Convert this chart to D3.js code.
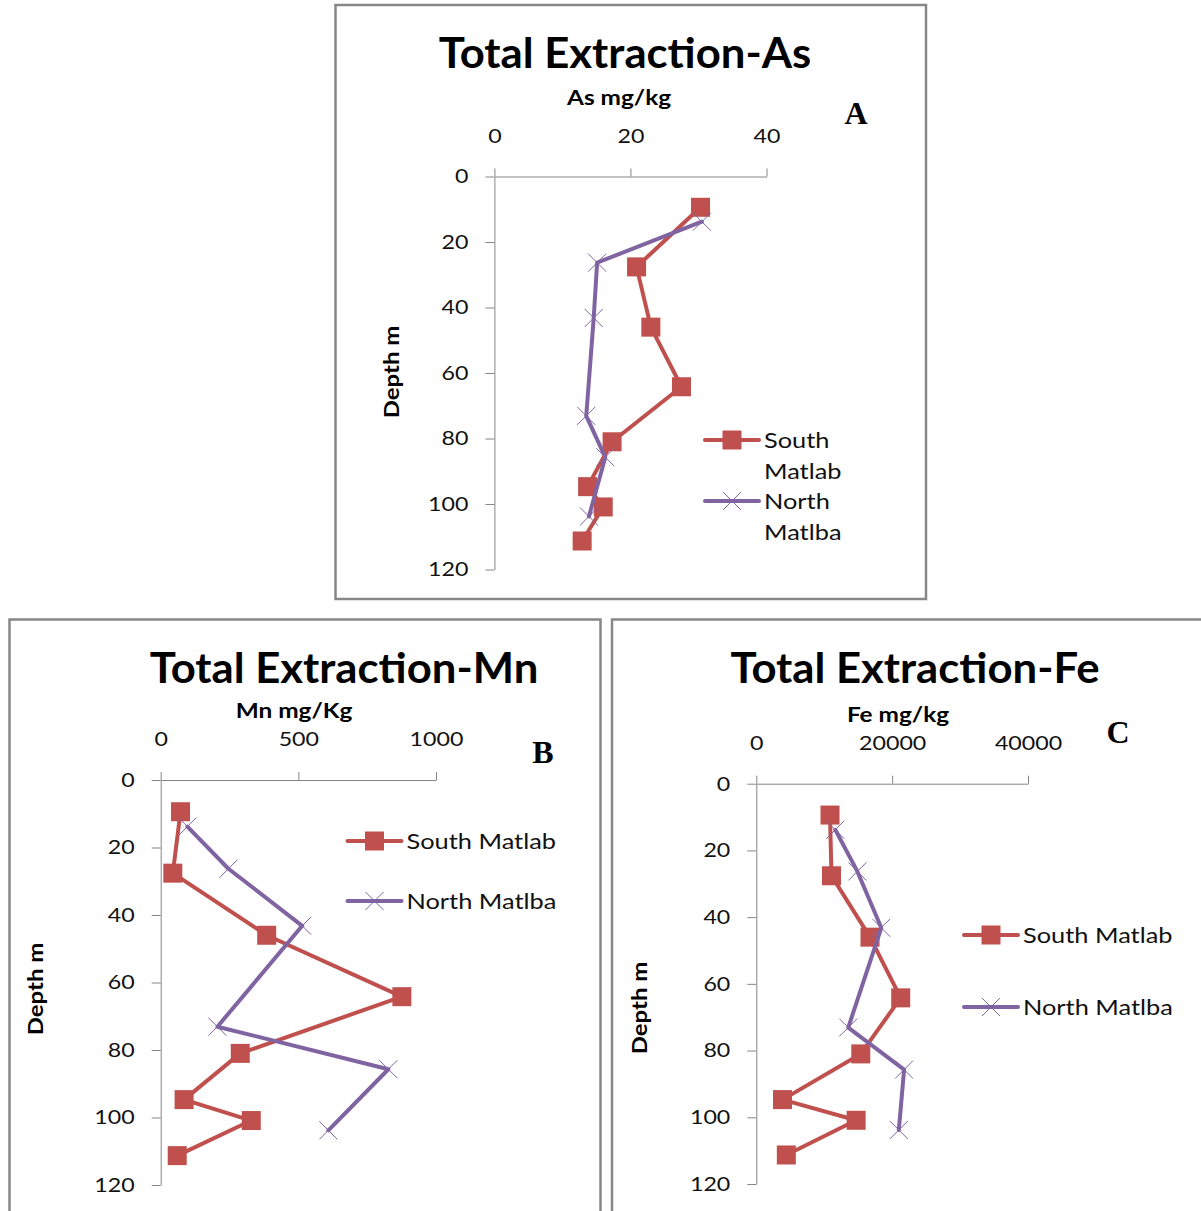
<!DOCTYPE html>
<html>
<head>
<meta charset="utf-8">
<script src="https://cdn.jsdelivr.net/npm/d3@7"></script>
<style>
  body { margin: 0; background: #fff; }
  svg { display: block; }
</style>
</head>
<body>
<svg id="chart" width="1201" height="1211"></svg>
<script>
// depths (m) of the two boreholes
var southDepth = [9.4, 27.6, 46, 64.2, 81, 94.7, 100.9, 111.3];
var northDepth = [13.8, 26.3, 43.2, 73.1, 85.7, 103.8];

// total extraction values, mg/kg
var asSouth = [30.3, 20.9, 23.0, 27.5, 17.3, 13.7, 16.0, 12.9];
var asNorth = [30.5, 15.1, 14.6, 13.5, 16.3, 13.9];
var mnSouth = [72, 44, 385, 876, 289, 85, 329, 60];
var mnNorth = [97, 246, 514, 206, 827, 609];
var feSouth = [10850, 11070, 16740, 21260, 15380, 3860, 14700, 4420];
var feNorth = [11630, 14880, 18400, 13540, 21760, 20980];

var seriesNames = ["South Matlab", "North Matlba"];
var depthTicks = [0, 20, 40, 60, 80, 100, 120];
var asTicks = [0, 20, 40];
var mnTicks = [0, 500, 1000];
var feTicks = [0, 20000, 40000];

var red = "#C0504D";
var purple = "#8064A2";
var axisGrey = "#868686";
var font = "Lato, 'Open Sans', sans-serif";

var svg = d3.select("#chart");

// widen glyphs a bit, the original font runs wider than Lato
function stretch(sel, k) {
	sel.each(function() {
		var w = this.getComputedTextLength();
		d3.select(this).attr("textLength", w * k).attr("lengthAdjust", "spacingAndGlyphs");
	});
}

var panels = [
	{
		frame: [335.5, 5, 590.5, 594],
		title: "Total Extraction-As", titleX: 625, titleY: 68,
		unit: "As mg/kg", unitX: 619, unitY: 105,
		letter: "A", letterX: 856, letterY: 124,
		xr: [494.4, 766.5], yr: [176.5, 569.5], dom: [0, 40], ticks: asTicks,
		south: asSouth, north: asNorth,
		depthX: 392, depthY: 372,
		legX: 705, legY: [440, 501], wrap: true
	},
	{
		frame: [9.5, 619.5, 591, 700],
		title: "Total Extraction-Mn", titleX: 344, titleY: 683,
		unit: "Mn mg/Kg", unitX: 294, unitY: 718,
		letter: "B", letterX: 543, letterY: 763,
		xr: [160.7, 436], yr: [780, 1185], dom: [0, 1000], ticks: mnTicks,
		south: mnSouth, north: mnNorth,
		depthX: 36, depthY: 989,
		legX: 347.5, legY: [841, 901], wrap: false
	},
	{
		frame: [612, 619.5, 700, 700],
		title: "Total Extraction-Fe", titleX: 915, titleY: 683,
		unit: "Fe mg/kg", unitX: 898, unitY: 722,
		letter: "C", letterX: 1118, letterY: 743,
		xr: [756.3, 1028], yr: [783.7, 1184], dom: [0, 40000], ticks: feTicks,
		south: feSouth, north: feNorth,
		depthX: 640, depthY: 1008,
		legX: 964, legY: [935, 1007], wrap: false
	}
];

function squareMarker(g, cx, cy) {
	g.append("rect")
		.attr("x", cx - 9.5).attr("y", cy - 9.5)
		.attr("width", 19).attr("height", 19)
		.attr("fill", red);
}

function crossMarker(g, cx, cy) {
	var s = 9;
	g.append("path")
		.attr("d", "M" + (cx - s) + "," + (cy - s) + "L" + (cx + s) + "," + (cy + s) +
			"M" + (cx - s) + "," + (cy + s) + "L" + (cx + s) + "," + (cy - s))
		.attr("stroke", purple).attr("stroke-width", 1).attr("fill", "none");
}

panels.forEach(function(p) {
	var g = svg.append("g");

	g.append("rect")
		.attr("x", p.frame[0]).attr("y", p.frame[1])
		.attr("width", p.frame[2]).attr("height", p.frame[3])
		.attr("fill", "none").attr("stroke", "#878787").attr("stroke-width", 2.5);

	var x = d3.scaleLinear().domain(p.dom).range(p.xr);
	var y = d3.scaleLinear().domain([0, 120]).range(p.yr);

	var xAxis = g.append("g")
		.attr("transform", "translate(0," + p.yr[0] + ")")
		.call(d3.axisTop(x).tickValues(p.ticks).tickFormat(d3.format("d"))
			.tickSizeInner(8).tickSizeOuter(0).tickPadding(26));
	var yAxis = g.append("g")
		.attr("transform", "translate(" + p.xr[0] + ",0)")
		.call(d3.axisLeft(y).tickValues(depthTicks).tickFormat(d3.format("d"))
			.tickSizeInner(9).tickSizeOuter(0).tickPadding(17));

	[xAxis, yAxis].forEach(function(a) {
		a.select(".domain").attr("stroke", axisGrey);
		a.selectAll(".tick line").attr("stroke", axisGrey);
		a.selectAll(".tick text")
			.attr("fill", "#111")
			.style("font-family", font)
			.style("font-size", "20px");
		stretch(a.selectAll(".tick text"), 1.16);
	});

	var title = g.append("text")
		.attr("x", p.titleX).attr("y", p.titleY)
		.attr("text-anchor", "middle")
		.style("font-family", font).style("font-weight", "bold").style("font-size", "42px")
		.text(p.title);
	stretch(title, 1.04);

	var unit = g.append("text")
		.attr("x", p.unitX).attr("y", p.unitY)
		.attr("text-anchor", "middle")
		.style("font-family", font).style("font-weight", "bold").style("font-size", "21px")
		.text(p.unit);
	stretch(unit, 1.16);

	g.append("text")
		.attr("x", p.letterX).attr("y", p.letterY)
		.attr("text-anchor", "middle")
		.style("font-family", "'Liberation Serif', 'Times New Roman', serif")
		.style("font-weight", "bold").style("font-size", "32px")
		.text(p.letter);

	var depth = g.append("text")
		.attr("transform", "translate(" + p.depthX + "," + p.depthY + ") rotate(-90)")
		.attr("text-anchor", "middle").attr("dy", "0.35em")
		.style("font-family", font).style("font-weight", "bold").style("font-size", "21px")
		.text("Depth m");
	stretch(depth, 1.14);

	var line = d3.line()
		.x(function(d) { return x(d[0]); })
		.y(function(d) { return y(d[1]); });

	var southPts = d3.zip(p.south, southDepth);
	var northPts = d3.zip(p.north, northDepth);

	var sg = g.append("g");
	sg.append("path")
		.datum(southPts)
		.attr("d", line)
		.attr("fill", "none").attr("stroke", red).attr("stroke-width", 4)
		.attr("stroke-linejoin", "round").attr("stroke-linecap", "round");
	southPts.forEach(function(d) { squareMarker(sg, x(d[0]), y(d[1])); });

	var ng = g.append("g");
	ng.append("path")
		.datum(northPts)
		.attr("d", line)
		.attr("fill", "none").attr("stroke", purple).attr("stroke-width", 4)
		.attr("stroke-linejoin", "round").attr("stroke-linecap", "round");
	northPts.forEach(function(d) { crossMarker(ng, x(d[0]), y(d[1])); });

	// legend
	seriesNames.forEach(function(name, i) {
		var ly = p.legY[i];
		var col = i === 0 ? red : purple;
		g.append("line")
			.attr("x1", p.legX).attr("x2", p.legX + 54)
			.attr("y1", ly).attr("y2", ly)
			.attr("stroke", col).attr("stroke-width", 4).attr("stroke-linecap", "round");
		if (i === 0) squareMarker(g, p.legX + 27, ly);
		else crossMarker(g, p.legX + 27, ly);

		var words = p.wrap ? name.split(" ") : [name];
		words.forEach(function(w, j) {
			var t = g.append("text")
				.attr("x", p.legX + 59).attr("y", ly + 7.5 + j * 31)
				.attr("fill", "#111")
				.style("font-family", font).style("font-size", "21.5px")
				.text(w);
			stretch(t, 1.18);
		});
	});
});
</script>
</body>
</html>
